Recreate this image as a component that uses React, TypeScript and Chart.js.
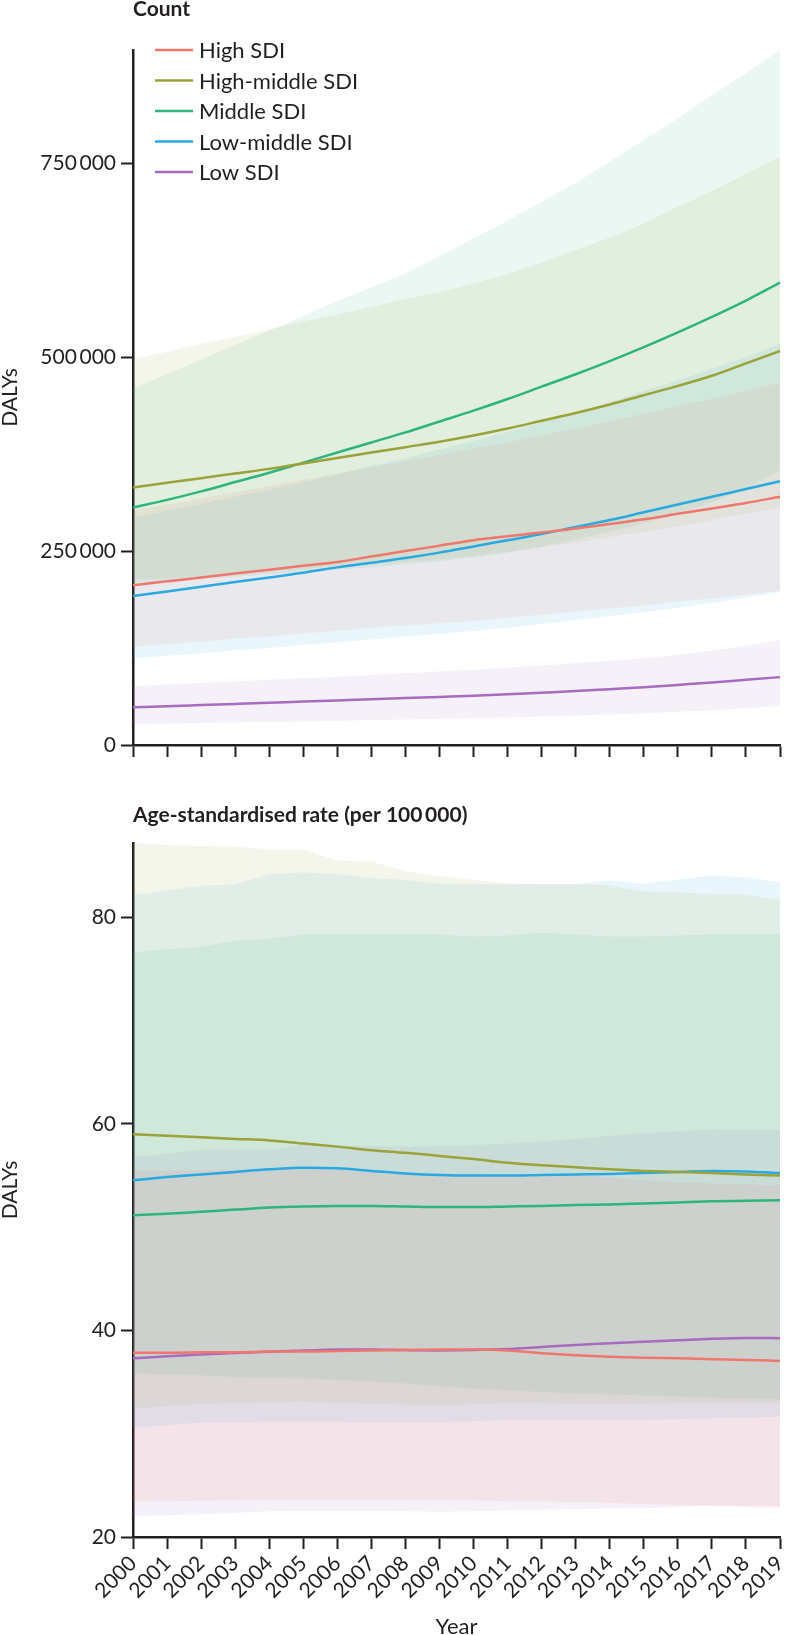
import React, { useEffect, useRef } from 'react';
import { Chart, registerables } from 'chart.js';

Chart.register(...registerables);

const years = ['2000', '2001', '2002', '2003', '2004', '2005', '2006', '2007', '2008', '2009', '2010', '2011', '2012', '2013', '2014', '2015', '2016', '2017', '2018', '2019'];
const seriesNames = ['High SDI', 'High-middle SDI', 'Middle SDI', 'Low-middle SDI', 'Low SDI'];
const seriesColors = ['#f0776b', '#9ba237', '#2db57d', '#29a9e1', '#a86bbf'];
const bandRGB = ['240,119,107', '155,162,55', '45,181,125', '41,169,225', '168,107,191'];

// ---- Count (DALYs) ----
const highCount = [206000, 211000, 216000, 221000, 226000, 231000, 236000, 243000, 250000, 257000, 264000, 269000, 274000, 279000, 285000, 291000, 298000, 305000, 312000, 320000];
const highLowerCount = [127000, 130000, 133000, 137000, 140000, 144000, 147000, 151000, 154000, 157000, 160000, 164000, 168000, 172000, 176000, 180000, 185000, 189000, 194000, 199000];
const highUpperCount = [303000, 310000, 318000, 326000, 334000, 342000, 350000, 358000, 366000, 374000, 382000, 390000, 399000, 408000, 417000, 427000, 437000, 446000, 456000, 467000];

const highMiddleCount = [332000, 338000, 344000, 350000, 356000, 363000, 370000, 377000, 384000, 391000, 399000, 408000, 418000, 428000, 439000, 451000, 463000, 476000, 492000, 508000];
const highMiddleLowerCount = [213000, 215000, 218000, 221000, 224000, 227000, 230000, 233000, 236000, 239000, 243000, 249000, 255000, 261000, 268000, 275000, 282000, 290000, 298000, 306000];
const highMiddleUpperCount = [498000, 507000, 517000, 526000, 536000, 546000, 555000, 565000, 575000, 584000, 595000, 607000, 622000, 638000, 654000, 672000, 694000, 714000, 736000, 758000];

const middleCount = [306000, 316000, 327000, 339000, 351000, 364000, 377000, 390000, 403000, 417000, 431000, 446000, 462000, 478000, 495000, 513000, 532000, 552000, 573000, 596000];
const middleLowerCount = [209000, 211000, 214000, 217000, 220000, 223000, 226000, 229000, 233000, 237000, 242000, 248000, 256000, 265000, 275000, 286000, 299000, 313000, 331000, 354000];
const middleUpperCount = [460000, 478000, 497000, 516000, 534000, 553000, 572000, 590000, 608000, 630000, 653000, 676000, 700000, 725000, 752000, 780000, 808000, 838000, 866000, 896000];

const lowMiddleCount = [192000, 198000, 204000, 210000, 216000, 222000, 229000, 235000, 241000, 248000, 256000, 264000, 272000, 281000, 290000, 300000, 310000, 320000, 330000, 340000];
const lowMiddleLowerCount = [112000, 115000, 118000, 122000, 125000, 129000, 132000, 136000, 140000, 143000, 147000, 151000, 156000, 161000, 166000, 171000, 177000, 183000, 190000, 197000];
const lowMiddleUpperCount = [294000, 302000, 311000, 320000, 329000, 339000, 349000, 360000, 370000, 381000, 392000, 404000, 416000, 429000, 442000, 456000, 470000, 485000, 500000, 517000];

const lowCount = [48600, 50000, 51500, 53000, 54500, 56000, 57500, 59000, 60500, 62000, 63500, 65500, 67500, 69500, 72000, 74500, 77500, 80500, 84000, 87500];
const lowLowerCount = [27000, 27700, 28400, 29100, 29800, 30500, 31300, 32100, 32900, 33700, 34600, 35600, 36700, 38000, 39400, 41000, 42800, 44800, 47400, 50300];
const lowUpperCount = [76000, 78000, 80000, 82000, 84000, 86000, 88000, 90200, 92400, 94700, 97000, 99700, 102500, 105500, 108700, 112000, 116500, 121500, 128000, 135000];

const countTicks = [0, 250000, 500000, 750000];

// ---- Age-standardised rate (per 100 000) ----
const highRate = [37.85, 37.85, 37.9, 37.9, 37.95, 37.95, 38.0, 38.05, 38.1, 38.15, 38.15, 38.05, 37.8, 37.6, 37.45, 37.35, 37.3, 37.22, 37.15, 37.05];
const highLowerRate = [23.42, 23.45, 23.5, 23.55, 23.6, 23.6, 23.6, 23.6, 23.6, 23.6, 23.55, 23.45, 23.42, 23.38, 23.3, 23.2, 23.1, 23.0, 22.9, 22.78];
const highUpperRate = [55.5, 55.5, 55.55, 55.55, 55.6, 55.6, 55.55, 55.4, 55.3, 55.2, 55.2, 55.15, 55.1, 55.05, 54.8, 54.55, 54.35, 54.25, 54.15, 54.05];

const highMiddleRate = [59.0, 58.85, 58.7, 58.55, 58.4, 58.1, 57.8, 57.45, 57.2, 56.9, 56.6, 56.25, 56.0, 55.8, 55.6, 55.45, 55.35, 55.25, 55.1, 55.0];
const highMiddleLowerRate = [32.45, 32.65, 32.87, 33.0, 33.05, 33.09, 33.0, 32.9, 32.8, 32.68, 32.85, 32.97, 32.95, 32.9, 32.9, 32.92, 32.95, 33.0, 33.0, 33.0];
const highMiddleUpperRate = [87.2, 87.0, 86.9, 86.86, 86.57, 86.57, 85.5, 85.4, 84.47, 83.99, 83.64, 83.31, 83.2, 83.2, 83.09, 82.5, 82.4, 82.28, 82.2, 81.73];

const middleRate = [51.15, 51.3, 51.5, 51.7, 51.9, 52.0, 52.05, 52.05, 52.0, 51.95, 51.95, 52.0, 52.05, 52.15, 52.2, 52.3, 52.4, 52.5, 52.55, 52.6];
const middleLowerRate = [35.84, 35.75, 35.65, 35.5, 35.4, 35.36, 35.2, 35.05, 34.87, 34.6, 34.39, 34.2, 34.05, 33.9, 33.8, 33.7, 33.6, 33.48, 33.4, 33.35];
const middleUpperRate = [76.63, 76.9, 77.12, 77.77, 77.93, 78.35, 78.4, 78.4, 78.4, 78.35, 78.15, 78.25, 78.5, 78.35, 78.15, 78.15, 78.25, 78.35, 78.35, 78.35];

const lowMiddleRate = [54.55, 54.85, 55.1, 55.35, 55.6, 55.75, 55.7, 55.45, 55.2, 55.05, 55.0, 55.0, 55.05, 55.1, 55.15, 55.25, 55.35, 55.45, 55.4, 55.25];
const lowMiddleLowerRate = [30.58, 30.85, 31.06, 31.1, 31.15, 31.16, 31.15, 31.12, 31.1, 31.1, 31.2, 31.32, 31.32, 31.32, 31.32, 31.32, 31.4, 31.5, 31.58, 31.64];
const lowMiddleUpperRate = [82.19, 82.6, 83.09, 83.2, 84.2, 84.37, 84.2, 83.8, 83.64, 83.25, 83.2, 83.2, 83.2, 83.2, 83.57, 83.25, 83.67, 84.05, 83.89, 83.4];

const lowRate = [37.3, 37.5, 37.68, 37.82, 37.94, 38.05, 38.15, 38.15, 38.1, 38.07, 38.1, 38.2, 38.4, 38.6, 38.75, 38.9, 39.05, 39.2, 39.28, 39.25];
const lowLowerRate = [22.03, 22.1, 22.2, 22.35, 22.5, 22.55, 22.55, 22.55, 22.5, 22.45, 22.5, 22.6, 22.65, 22.7, 22.75, 22.78, 22.9, 23.05, 23.0, 22.97];
const lowUpperRate = [56.8, 57.1, 57.5, 57.5, 57.5, 58.0, 57.9, 57.85, 57.8, 57.85, 57.95, 58.1, 58.3, 58.55, 58.85, 59.1, 59.3, 59.48, 59.47, 59.45];

const rateTicks = [20, 40, 60, 80];

const INK = '#231f20';
const FONT = 'Lato';

function fmtThousands(v: number): string {
  return String(Math.round(v)).replace(/\B(?=(\d{3})+(?!\d))/g, '\u2009');
}

const decorPlugin = {
  id: 'panelDecor',
  afterDraw(chart: any, _args: any, opts: any) {
    const ctx = chart.ctx;
    const area = chart.chartArea;
    ctx.save();
    ctx.fillStyle = INK;
    ctx.textBaseline = 'middle';
    ctx.textAlign = 'left';
    ctx.font = `bold 21px ${FONT}`;
    ctx.fillText(opts.title, area.left, opts.titleY);
    if (opts.legend) {
      ctx.font = `22px ${FONT}`;
      seriesNames.forEach((n, i) => {
        const y = opts.legendY + i * 30.5;
        ctx.strokeStyle = seriesColors[i];
        ctx.lineWidth = 2.5;
        ctx.beginPath();
        ctx.moveTo(area.left + 22, y);
        ctx.lineTo(area.left + 60, y);
        ctx.stroke();
        ctx.fillStyle = INK;
        ctx.fillText(n, area.left + 66, y + 1);
      });
    }
    ctx.restore();
  },
};

function buildDatasets(lines: number[][], lowers: number[][], uppers: number[][]) {
  const ds: any[] = [];
  lines.forEach((d, i) => {
    ds.push({
      label: seriesNames[i],
      data: d,
      borderColor: seriesColors[i],
      backgroundColor: seriesColors[i],
      borderWidth: 2.5,
      pointRadius: 0,
      fill: false,
      cubicInterpolationMode: 'monotone',
    });
  });
  lowers.forEach((lo, i) => {
    ds.push({
      label: seriesNames[i] + ' upper',
      data: uppers[i],
      borderColor: 'rgba(0,0,0,0)',
      borderWidth: 0,
      pointRadius: 0,
      fill: false,
    });
    ds.push({
      label: seriesNames[i] + ' lower',
      data: lo,
      borderColor: 'rgba(0,0,0,0)',
      borderWidth: 0,
      pointRadius: 0,
      fill: '-1',
      backgroundColor: `rgba(${bandRGB[i]},0.1)`,
    });
  });
  return ds;
}

function axisCommon() {
  return {
    grid: { drawOnChartArea: false, drawTicks: true, tickLength: 12, tickColor: INK, tickWidth: 2 },
    border: { display: true, color: INK, width: 2.5 },
  };
}

function makeConfig(kind: 'count' | 'rate'): any {
  const isCount = kind === 'count';
  const datasets = isCount
    ? buildDatasets(
        [highCount, highMiddleCount, middleCount, lowMiddleCount, lowCount],
        [highLowerCount, highMiddleLowerCount, middleLowerCount, lowMiddleLowerCount, lowLowerCount],
        [highUpperCount, highMiddleUpperCount, middleUpperCount, lowMiddleUpperCount, lowUpperCount]
      )
    : buildDatasets(
        [highRate, highMiddleRate, middleRate, lowMiddleRate, lowRate],
        [highLowerRate, highMiddleLowerRate, middleLowerRate, lowMiddleLowerRate, lowLowerRate],
        [highUpperRate, highMiddleUpperRate, middleUpperRate, lowMiddleUpperRate, lowUpperRate]
      );
  const yMax = isCount ? Math.max(...middleUpperCount) : Math.max(...highMiddleUpperRate);
  const yTicks = isCount ? countTicks : rateTicks;
  return {
    type: 'line',
    data: { labels: years, datasets },
    plugins: [decorPlugin],
    options: {
      responsive: false,
      animation: false,
      devicePixelRatio: 1,
      layout: { padding: isCount ? { top: 50, left: 0, right: 10, bottom: 0 } : { top: 73, left: 0, right: 10, bottom: 0 } },
      plugins: {
        legend: { display: false },
        tooltip: { enabled: false },
        panelDecor: isCount
          ? { title: 'Count', titleY: 9, legend: true, legendY: 50 }
          : { title: 'Age-standardised rate (per 100\u2009000)', titleY: 45, legend: false },
      },
      scales: {
        x: {
          type: 'category',
          offset: false,
          ...axisCommon(),
          ticks: isCount
            ? { display: false, autoSkip: false }
            : {
                display: true,
                autoSkip: false,
                minRotation: 45,
                maxRotation: 45,
                padding: 2,
                color: INK,
                font: { family: FONT, size: 21 },
              },
          title: isCount
            ? { display: false }
            : { display: true, text: 'Year', color: INK, font: { family: FONT, size: 22, lineHeight: 1.2 }, padding: 0 },
          afterFit: (s: any) => {
            s.height = isCount ? 25 : 103;
            s.paddingLeft = 0;
            s.paddingRight = 0;
          },
        },
        y: {
          type: 'linear',
          min: isCount ? 0 : 20,
          max: yMax,
          ...axisCommon(),
          afterBuildTicks: (s: any) => {
            s.ticks = yTicks.map((v) => ({ value: v }));
          },
          ticks: {
            color: INK,
            padding: 5,
            font: { family: FONT, size: 21 },
            callback: (v: any) => fmtThousands(Number(v)),
          },
          title: { display: true, text: 'DALYs', color: INK, font: { family: FONT, size: 21, lineHeight: 1 }, padding: 0 },
          afterFit: (s: any) => {
            s.width = 133;
            s.paddingTop = 0;
            s.paddingBottom = 0;
          },
        },
      },
    },
  };
}

function Panel({ kind, top, height }: { kind: 'count' | 'rate'; top: number; height: number }) {
  const ref = useRef<HTMLCanvasElement | null>(null);
  useEffect(() => {
    if (!ref.current) return;
    const chart = new Chart(ref.current, makeConfig(kind));
    return () => chart.destroy();
  }, [kind]);
  return (
    <div style={{ position: 'absolute', left: 0, top, width: 790, height }}>
      <canvas ref={ref} width={790} height={height} style={{ display: 'block', width: 790, height }} />
    </div>
  );
}

export default function App() {
  return (
    <div style={{ position: 'absolute', left: 0, top: 0, width: 790, height: 1635, overflow: 'hidden', background: '#fff' }}>
      <Panel kind="count" top={0} height={770} />
      <Panel kind="rate" top={770} height={870} />
    </div>
  );
}
